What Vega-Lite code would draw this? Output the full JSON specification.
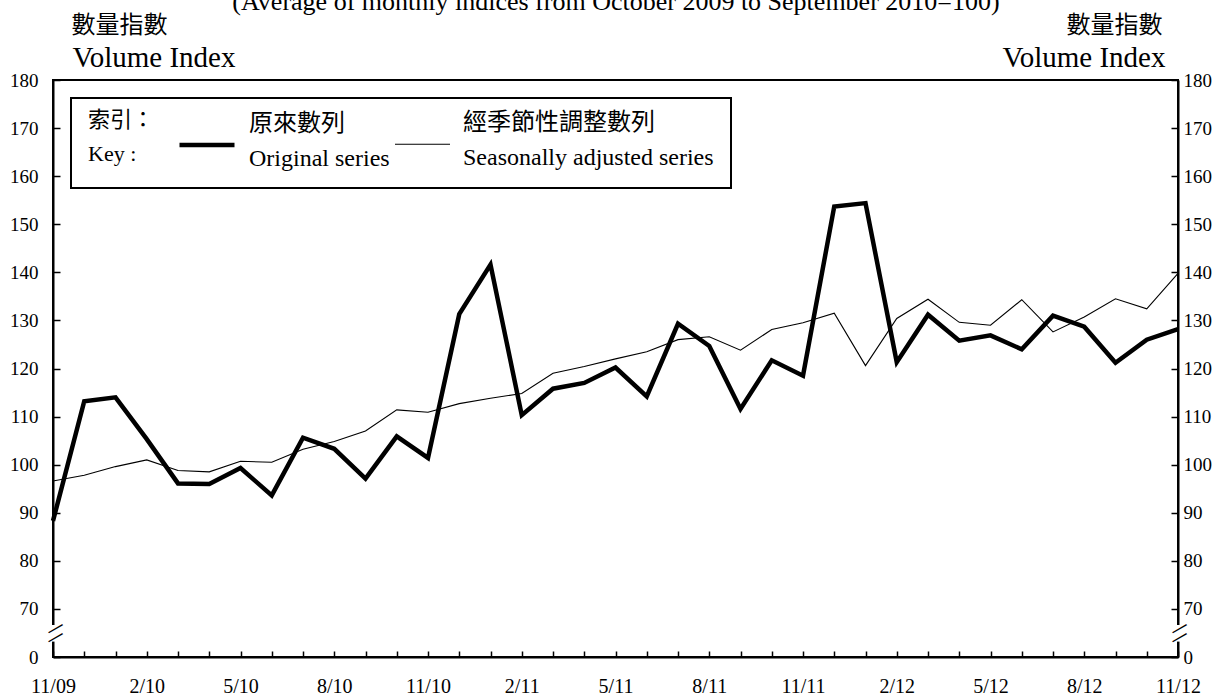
{
  "$schema": "https://vega.github.io/schema/vega-lite/v6.json",
  "width": 1125,
  "height": 577,
  "autosize": {"type": "none"},
  "padding": {"left": 53, "top": 80, "right": 53, "bottom": 38},
  "background": "white",
  "config": {
    "view": {"stroke": "black", "strokeWidth": 2},
    "font": "Liberation Serif",
    "axis": {
      "domainColor": "black", "domainWidth": 2, "tickColor": "black", "tickWidth": 1.5,
      "labelColor": "black", "labelFont": "Liberation Serif", "labelFontSize": 19,
      "grid": false, "titleColor": "black", "titleFontWeight": "normal"
    },
    "legend": {
      "orient": "none", "legendX": 18, "legendY": 18, "direction": "horizontal",
      "titleOrient": "left", "titleFontSize": 22, "titleFont": "Liberation Serif, Noto Sans CJK TC",
      "titleFontWeight": "normal", "titleLineHeight": 34, "titlePadding": 22, "titleColor": "black",
      "symbolType": "stroke", "symbolSize": 3025, "symbolStrokeColor": "black",
      "labelFont": "Liberation Serif, Noto Sans CJK TC", "labelFontSize": 24,
      "labelOffset": 12, "labelColor": "black", "labelLimit": 400, "columnPadding": 2,
      "strokeColor": "black", "strokeWidth": 2, "padding": 17
    }
  },
  "data": {"values": [
    {"month": "11/09", "series": "Original series", "value": 88.3},
    {"month": "12/09", "series": "Original series", "value": 113.2},
    {"month": "1/10", "series": "Original series", "value": 114.0},
    {"month": "2/10", "series": "Original series", "value": 105.3},
    {"month": "3/10", "series": "Original series", "value": 96.1},
    {"month": "4/10", "series": "Original series", "value": 96.0},
    {"month": "5/10", "series": "Original series", "value": 99.3},
    {"month": "6/10", "series": "Original series", "value": 93.6},
    {"month": "7/10", "series": "Original series", "value": 105.6},
    {"month": "8/10", "series": "Original series", "value": 103.3},
    {"month": "9/10", "series": "Original series", "value": 97.1},
    {"month": "10/10", "series": "Original series", "value": 105.9},
    {"month": "11/10", "series": "Original series", "value": 101.4},
    {"month": "12/10", "series": "Original series", "value": 131.3},
    {"month": "1/11", "series": "Original series", "value": 141.6},
    {"month": "2/11", "series": "Original series", "value": 110.3},
    {"month": "3/11", "series": "Original series", "value": 115.8},
    {"month": "4/11", "series": "Original series", "value": 117.0},
    {"month": "5/11", "series": "Original series", "value": 120.2},
    {"month": "6/11", "series": "Original series", "value": 114.2},
    {"month": "7/11", "series": "Original series", "value": 129.3},
    {"month": "8/11", "series": "Original series", "value": 124.7},
    {"month": "9/11", "series": "Original series", "value": 111.6},
    {"month": "10/11", "series": "Original series", "value": 121.7},
    {"month": "11/11", "series": "Original series", "value": 118.5},
    {"month": "12/11", "series": "Original series", "value": 153.7},
    {"month": "1/12", "series": "Original series", "value": 154.4},
    {"month": "2/12", "series": "Original series", "value": 121.3},
    {"month": "3/12", "series": "Original series", "value": 131.2},
    {"month": "4/12", "series": "Original series", "value": 125.8},
    {"month": "5/12", "series": "Original series", "value": 126.9},
    {"month": "6/12", "series": "Original series", "value": 124.0},
    {"month": "7/12", "series": "Original series", "value": 131.0},
    {"month": "8/12", "series": "Original series", "value": 128.7},
    {"month": "9/12", "series": "Original series", "value": 121.2},
    {"month": "10/12", "series": "Original series", "value": 126.0},
    {"month": "11/12", "series": "Original series", "value": 128.2},
    {"month": "11/09", "series": "Seasonally adjusted series", "value": 96.6},
    {"month": "12/09", "series": "Seasonally adjusted series", "value": 97.8},
    {"month": "1/10", "series": "Seasonally adjusted series", "value": 99.6},
    {"month": "2/10", "series": "Seasonally adjusted series", "value": 101.0},
    {"month": "3/10", "series": "Seasonally adjusted series", "value": 98.8},
    {"month": "4/10", "series": "Seasonally adjusted series", "value": 98.5},
    {"month": "5/10", "series": "Seasonally adjusted series", "value": 100.7},
    {"month": "6/10", "series": "Seasonally adjusted series", "value": 100.5},
    {"month": "7/10", "series": "Seasonally adjusted series", "value": 103.2},
    {"month": "8/10", "series": "Seasonally adjusted series", "value": 104.8},
    {"month": "9/10", "series": "Seasonally adjusted series", "value": 107.0},
    {"month": "10/10", "series": "Seasonally adjusted series", "value": 111.4},
    {"month": "11/10", "series": "Seasonally adjusted series", "value": 110.9},
    {"month": "12/10", "series": "Seasonally adjusted series", "value": 112.7},
    {"month": "1/11", "series": "Seasonally adjusted series", "value": 113.8},
    {"month": "2/11", "series": "Seasonally adjusted series", "value": 114.8},
    {"month": "3/11", "series": "Seasonally adjusted series", "value": 119.0},
    {"month": "4/11", "series": "Seasonally adjusted series", "value": 120.4},
    {"month": "5/11", "series": "Seasonally adjusted series", "value": 122.0},
    {"month": "6/11", "series": "Seasonally adjusted series", "value": 123.5},
    {"month": "7/11", "series": "Seasonally adjusted series", "value": 126.0},
    {"month": "8/11", "series": "Seasonally adjusted series", "value": 126.6},
    {"month": "9/11", "series": "Seasonally adjusted series", "value": 123.8},
    {"month": "10/11", "series": "Seasonally adjusted series", "value": 128.1},
    {"month": "11/11", "series": "Seasonally adjusted series", "value": 129.5},
    {"month": "12/11", "series": "Seasonally adjusted series", "value": 131.5},
    {"month": "1/12", "series": "Seasonally adjusted series", "value": 120.6},
    {"month": "2/12", "series": "Seasonally adjusted series", "value": 130.4},
    {"month": "3/12", "series": "Seasonally adjusted series", "value": 134.4},
    {"month": "4/12", "series": "Seasonally adjusted series", "value": 129.6},
    {"month": "5/12", "series": "Seasonally adjusted series", "value": 129.0},
    {"month": "6/12", "series": "Seasonally adjusted series", "value": 134.3},
    {"month": "7/12", "series": "Seasonally adjusted series", "value": 127.6},
    {"month": "8/12", "series": "Seasonally adjusted series", "value": 130.7},
    {"month": "9/12", "series": "Seasonally adjusted series", "value": 134.5},
    {"month": "10/12", "series": "Seasonally adjusted series", "value": 132.4},
    {"month": "11/12", "series": "Seasonally adjusted series", "value": 139.8}
  ]},
  "encoding": {
    "x": {
      "field": "month", "type": "ordinal",
      "scale": {"type": "point", "padding": 0, "domain": ["11/09","12/09","1/10","2/10","3/10","4/10","5/10","6/10","7/10","8/10","9/10","10/10","11/10","12/10","1/11","2/11","3/11","4/11","5/11","6/11","7/11","8/11","9/11","10/11","11/11","12/11","1/12","2/12","3/12","4/12","5/12","6/12","7/12","8/12","9/12","10/12","11/12"]},
      "axis": {
        "orient": "bottom", "labelAngle": 0, "tickSize": -6, "labelPadding": 25, "labelFontSize": 20,
        "labelExpr": "indexof(['11','2','5','8'], split(datum.value, '/')[0]) >= 0 ? datum.value : ''",
        "title": "(Average of monthly indices from October 2009 to September 2010=100)",
        "titleX": 562.5, "titleY": -648, "titleAlign": "center", "titleBaseline": "alphabetic",
        "titleAngle": 0, "titleFontSize": 26, "titleFont": "Liberation Serif"
      }
    }
  },
  "layer": [
    {
      "transform": [{"filter": "datum.series == 'Seasonally adjusted series'"}],
      "mark": {"type": "line", "color": "black"},
      "encoding": {
        "y": {
          "field": "value", "type": "quantitative",
          "scale": {"domain": [60, 180], "nice": false, "zero": false},
          "axis": {
            "orient": "right", "values": [60,70,80,90,100,110,120,130,140,150,160,170,180],
            "labelExpr": "datum.value == 60 ? '0' : datum.label",
            "tickSize": -7, "labelPadding": 12, "labelAlign": "left",
            "title": "Volume Index", "titleAngle": 0, "titleAlign": "right", "titleBaseline": "alphabetic",
            "titleX": -13, "titleY": -14, "titleFontSize": 29, "titleFont": "Liberation Serif"
          }
        },
        "strokeWidth": {
          "field": "series", "type": "nominal",
          "scale": {"domain": ["Original series", "Seasonally adjusted series"], "range": [4.5, 1.1]},
          "legend": {
            "title": ["索引：", "Key :"],
            "labelExpr": "datum.label == 'Original series' ? ['原來數列', 'Original series'] : ['經季節性調整數列', 'Seasonally adjusted series']",
            "encode": {
              "labels": {"update": {"lineHeight": {"value": 35}, "baseline": {"value": "top"}, "dy": {"value": -33}}},
              "title": {"update": {"dy": {"value": -6}}}
            }
          }
        }
      }
    },
    {
      "transform": [{"filter": "datum.series == 'Original series'"}],
      "mark": {"type": "line", "color": "black", "strokeJoin": "miter"},
      "encoding": {
        "y": {
          "field": "value", "type": "quantitative",
          "scale": {"domain": [60, 180], "nice": false, "zero": false},
          "axis": {
            "orient": "left", "values": [60,70,80,90,100,110,120,130,140,150,160,170,180],
            "labelExpr": "datum.value == 60 ? '0' : datum.label",
            "tickSize": -7, "labelPadding": 22,
            "title": "Volume Index", "titleAngle": 0, "titleAlign": "left", "titleBaseline": "alphabetic",
            "titleX": 19, "titleY": -14, "titleFontSize": 29, "titleFont": "Liberation Serif"
          }
        },
        "strokeWidth": {"field": "series", "type": "nominal"}
      }
    },
    {
      "transform": [{"filter": "datum.series == 'Original series'"}],
      "mark": {"type": "line", "color": "black", "opacity": 0},
      "encoding": {
        "y": {
          "field": "value", "type": "quantitative",
          "axis": {
            "orient": "left", "labels": false, "ticks": false, "domain": false,
            "title": "數量指數", "titleAngle": 0, "titleAlign": "left", "titleBaseline": "alphabetic",
            "titleX": 18, "titleY": -48, "titleFontSize": 24, "titleFont": "Noto Sans CJK TC"
          }
        }
      }
    },
    {
      "transform": [{"filter": "datum.series == 'Original series'"}],
      "mark": {"type": "line", "color": "black", "opacity": 0},
      "encoding": {
        "y": {
          "field": "value", "type": "quantitative",
          "axis": {
            "orient": "right", "labels": false, "ticks": false, "domain": false,
            "title": "數量指數", "titleAngle": 0, "titleAlign": "right", "titleBaseline": "alphabetic",
            "titleX": -16, "titleY": -48, "titleFontSize": 24, "titleFont": "Noto Sans CJK TC"
          }
        }
      }
    },
    {
      "transform": [{"filter": "datum.series == 'Original series'"}],
      "mark": {"type": "line", "color": "black", "opacity": 0},
      "encoding": {
        "y": {
          "field": "value", "type": "quantitative",
          "axis": {
            "orient": "left", "values": [64.9], "ticks": false, "domain": false, "title": null,
            "labelExpr": "'█'", "labelColor": "white", "labelFont": "DejaVu Sans", "labelFontSize": 14,
            "labelAlign": "center", "labelBaseline": "middle", "labelPadding": 0,
            "labelOverlap": false, "labelFlush": false, "labelBound": false
          }
        }
      }
    },
    {
      "transform": [{"filter": "datum.series == 'Original series'"}],
      "mark": {"type": "line", "color": "black", "opacity": 0},
      "encoding": {
        "y": {
          "field": "value", "type": "quantitative",
          "axis": {
            "orient": "right", "values": [64.9], "ticks": false, "domain": false, "title": null,
            "labelExpr": "'█'", "labelColor": "white", "labelFont": "DejaVu Sans", "labelFontSize": 14,
            "labelAlign": "center", "labelBaseline": "middle", "labelPadding": 0,
            "labelOverlap": false, "labelFlush": false, "labelBound": false
          }
        }
      }
    },
    {
      "transform": [{"filter": "datum.series == 'Original series'"}],
      "mark": {"type": "line", "color": "black", "opacity": 0},
      "encoding": {
        "y": {
          "field": "value", "type": "quantitative",
          "axis": {
            "orient": "left", "values": [64.1, 66.0], "ticks": false, "domain": false, "title": null,
            "labelExpr": "'—'", "labelColor": "black", "labelFont": "DejaVu Sans", "labelFontSize": 18,
            "labelAngle": -30, "labelAlign": "center", "labelBaseline": "middle", "labelPadding": -2,
            "labelOverlap": false, "labelFlush": false, "labelBound": false
          }
        }
      }
    },
    {
      "transform": [{"filter": "datum.series == 'Original series'"}],
      "mark": {"type": "line", "color": "black", "opacity": 0},
      "encoding": {
        "y": {
          "field": "value", "type": "quantitative",
          "axis": {
            "orient": "right", "values": [64.1, 66.0], "ticks": false, "domain": false, "title": null,
            "labelExpr": "'—'", "labelColor": "black", "labelFont": "DejaVu Sans", "labelFontSize": 18,
            "labelAngle": -30, "labelAlign": "center", "labelBaseline": "middle", "labelPadding": 1,
            "labelOverlap": false, "labelFlush": false, "labelBound": false
          }
        }
      }
    }
  ],
  "resolve": {"scale": {"y": "shared"}, "axis": {"y": "independent"}}
}
